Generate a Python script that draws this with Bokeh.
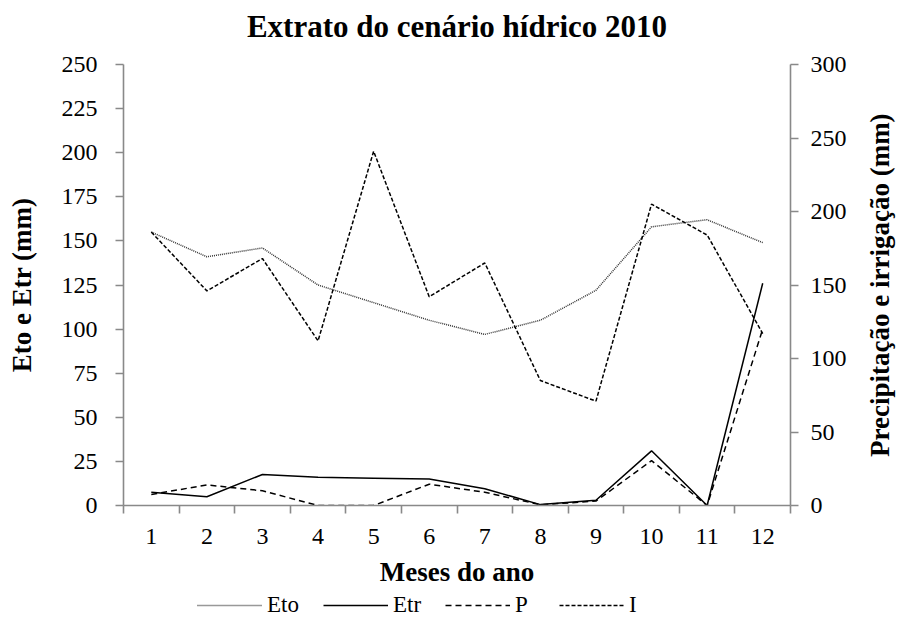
import numpy as np
from bokeh.plotting import figure
from bokeh.layouts import column
from bokeh.models import (Range1d, LinearAxis, FixedTicker, SingleIntervalTicker,
                          Legend, LegendItem, Label)
from bokeh.embed import file_html
from bokeh.resources import INLINE

# ---- data ----
months = [1, 2, 3, 4, 5, 6, 7, 8, 9, 10, 11, 12]
month_labels = ["1", "2", "3", "4", "5", "6", "7", "8", "9", "10", "11", "12"]
eto = [155, 141, 146, 125, 115, 105, 97, 105, 122, 158, 162, 149]      # left axis
etr = [7.5, 5, 17.6, 16, 15.5, 15, 9.5, 0.5, 3, 31, 0, 126]             # left axis
prec = [7.5, 14, 10, 0, 0, 14.5, 9, 0.5, 3, 30.5, 0, 120]               # right axis
irr = [186, 146, 168, 112, 241, 142, 165, 85, 71, 205, 184, 117]        # right axis

title_text = "Extrato do cenário hídrico 2010"
x_title = "Meses do ano"
y_left_title = "Eto e Etr (mm)"
y_right_title = "Precipitação e irrigação (mm)"
series_names = ["Eto", "Etr", "P", "I"]

FONT = "Liberation Serif"
AX = "#898989"
FW = 667          # frame width shared by the three stacked figures
BL, BR = 123, 121


def bare(fig):
    fig.outline_line_color = None
    fig.xgrid.visible = False
    fig.ygrid.visible = False


def strip(h):
    f = figure(title=None, frame_width=FW, frame_height=h, output_backend="svg", toolbar_location=None,
               x_range=Range1d(0.5, 12.5), y_range=Range1d(0, h), x_axis_type=None, y_axis_type=None,
               min_border=0, min_border_left=BL, min_border_right=BR, min_border_top=0,
               min_border_bottom=0)
    bare(f)
    return f


# ---- title strip ----
tt = strip(44)
tt.add_layout(Label(x=6.5, y=18, text=title_text, text_align="center", text_baseline="middle",
                    text_font=FONT, text_font_size="31px", text_font_style="bold", text_color="black"))

# ---- main chart ----
p = figure(title=None, frame_width=FW, frame_height=441, output_backend="svg", toolbar_location=None,
           x_range=Range1d(0.5, 12.5), y_range=Range1d(0, 250),
           min_border_left=BL, min_border_right=BR, min_border_top=20, min_border_bottom=85)
p.extra_y_ranges = {"right": Range1d(0, 300)}
bare(p)


def style_axis(ax):
    ax.axis_line_color = AX
    ax.axis_line_width = 1.6
    ax.major_tick_line_color = AX
    ax.major_tick_line_width = 1.6
    ax.major_tick_out = 8
    ax.major_tick_in = 0
    ax.minor_tick_line_color = None
    ax.major_label_text_font = FONT
    ax.major_label_text_font_size = "24px"
    ax.major_label_text_color = "black"
    ax.axis_label_text_font = FONT
    ax.axis_label_text_font_size = "27px"
    ax.axis_label_text_font_style = "bold"
    ax.axis_label_text_color = "black"
    ax.major_label_standoff = 18


# left axis
ly = p.yaxis[0]
ly.ticker = SingleIntervalTicker(interval=25, num_minor_ticks=0)
style_axis(ly)
ly.axis_label = y_left_title
ly.axis_label_standoff = 22

# right axis
ry = LinearAxis(y_range_name="right", ticker=SingleIntervalTicker(interval=50, num_minor_ticks=0))
style_axis(ry)
ry.major_label_standoff = 12
p.add_layout(ry, "right")

# right axis title, reading bottom-to-top: drawn as the single label of a bare axis
rt = LinearAxis(y_range_name="right", ticker=FixedTicker(ticks=[33]))
rt.major_label_overrides = {33: y_right_title}
rt.major_label_orientation = np.pi / 2
rt.axis_line_color = None
rt.major_tick_line_color = None
rt.minor_tick_line_color = None
rt.major_tick_out = 0
rt.major_tick_in = 0
rt.major_label_standoff = 31
rt.major_label_text_font = FONT
rt.major_label_text_font_size = "27px"
rt.major_label_text_font_style = "bold"
rt.major_label_text_color = "black"
p.add_layout(rt, "right")

# x axis: labels at month centres, tick marks between months
xa = p.xaxis[0]
style_axis(xa)
xa.ticker = FixedTicker(ticks=months, minor_ticks=[m - 0.5 for m in months] + [months[-1] + 0.5])
xa.major_label_overrides = {m: lbl for m, lbl in zip(months, month_labels)}
xa.major_tick_line_color = None
xa.minor_tick_line_color = AX
xa.minor_tick_line_width = 1.6
xa.minor_tick_out = 8
xa.minor_tick_in = 0
xa.major_label_standoff = 15
xa.axis_label = x_title
xa.axis_label_standoff = 10

styles = [dict(line_color="#333333", line_width=1.5, line_dash="1 1"),
          dict(line_color="black", line_width=1.5),
          dict(line_color="black", line_width=1.5, line_dash="6 4"),
          dict(line_color="black", line_width=1.5, line_dash="4 2")]

# series
p.line(months, eto, **styles[0])
p.line(months, etr, **styles[1])
p.line(months, prec, y_range_name="right", **styles[2])
p.line(months, irr, y_range_name="right", **styles[3])

# ---- legend strip under the chart ----
lg = strip(29)
items = []
for name, st in zip(series_names, styles):
    r = lg.line(x=[-5, -4], y=[-5, -4], **st)   # off-screen, only feeds the legend swatch
    items.append(LegendItem(label=name, renderers=[r]))
legend = Legend(items=items, orientation="horizontal", location=(74, 1),
                glyph_width=65, glyph_height=18, label_height=18, label_standoff=5, spacing=24,
                padding=0, margin=0, border_line_color=None, background_fill_alpha=0,
                label_text_font=FONT, label_text_font_size="23px", label_text_color="black")
lg.add_layout(legend)

open("out.html", "w").write(file_html(column(tt, p, lg, spacing=0), INLINE))
